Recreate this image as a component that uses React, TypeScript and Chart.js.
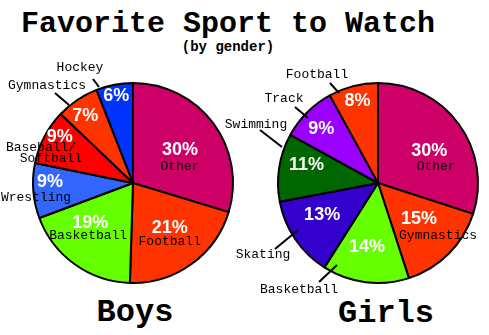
import React, { useEffect, useRef } from "react";
import { Chart, registerables } from "chart.js";
Chart.register(...registerables);

// ---- data ----
const titleText = "Favorite Sport to Watch";
const subtitleText = "(by gender)";
const boysTitle = "Boys";
const girlsTitle = "Girls";

const boysCategories = ["Other", "Football", "Basketball", "Wrestling", "Baseball/\nSoftball", "Gymnastics", "Hockey"];
const boysValues = [30, 21, 19, 9, 9, 7, 6];

const girlsCategories = ["Other", "Gymnastics", "Basketball", "Skating", "Swimming", "Track", "Football"];
const girlsValues = [30, 15, 14, 13, 11, 9, 8];

// ---- styles ----
const boysColors = ["#cc0066", "#ff3300", "#66ff00", "#3366ff", "#ff0000", "#ff3300", "#0033ff"];
const girlsColors = ["#cc0066", "#ff3300", "#66ff00", "#3300cc", "#006600", "#9900ff", "#ff3300"];

type LabelLayout = {
  r: number; // radius of percent label
  nudge: number; // degrees added to slice mid-angle
  name?: [number, number]; // name offset relative to percent label (inside)
  outside?: [number, number][]; // name line centers relative to pie centre
  leader?: [number, number, number, number];
};

const boysLayout: LabelLayout[] = [
  { r: 58, nudge: 0.5, name: [0, 18] },
  { r: 57, nudge: -4.5, name: [0, 15] },
  { r: 58, nudge: 12, name: [-2, 13] },
  { r: 83, nudge: 5.5, outside: [[-97, 15]] },
  { r: 87, nudge: 5, outside: [[-92, -35], [-82, -24]] },
  { r: 83, nudge: -1.3, outside: [[-86, -97]], leader: [-78, -90, -64, -78] },
  { r: 90, nudge: 0, outside: [[-53, -115]], leader: [-40, -104, -34, -96] },
];

const girlsLayout: LabelLayout[] = [
  { r: 61, nudge: 3, name: [7, 17] },
  { r: 54, nudge: -4.5, name: [19, 17] },
  { r: 64, nudge: 2.6, outside: [[-79, 107]], leader: [-59, 99, -41, 82] },
  { r: 64, nudge: 5, outside: [[-115, 72]], leader: [-103, 66, -80, 47] },
  { r: 74, nudge: 6, outside: [[-122, -58]], leader: [-118, -53, -96, -36] },
  { r: 79, nudge: -1, outside: [[-94, -84]], leader: [-83, -76, -70, -65] },
  { r: 85, nudge: 0.4, outside: [[-61, -108]], leader: [-48, -100, -39, -90] },
];

const W = 489;
const H = 335;

function makeLabelPlugin(categories: string[], values: number[], layout: LabelLayout[]) {
  return {
    id: "sliceLabels",
    afterDatasetsDraw(chart: any) {
      const ctx = chart.ctx as CanvasRenderingContext2D;
      const meta = chart.getDatasetMeta(0);
      ctx.save();
      meta.data.forEach((arc: any, i: number) => {
        const p = arc.getProps(["x", "y", "startAngle", "endAngle"], true);
        const L = layout[i];
        const mid = (p.startAngle + p.endAngle) / 2 + (L.nudge * Math.PI) / 180;
        const px = p.x + Math.cos(mid) * L.r;
        const py = p.y + Math.sin(mid) * L.r;
        // leader
        if (L.leader) {
          ctx.strokeStyle = "#000";
          ctx.lineWidth = 2;
          ctx.beginPath();
          ctx.moveTo(p.x + L.leader[0], p.y + L.leader[1]);
          ctx.lineTo(p.x + L.leader[2], p.y + L.leader[3]);
          ctx.stroke();
        }
        // percent
        ctx.fillStyle = "#ffffff";
        ctx.font = "bold 18px 'Liberation Sans', Arial, sans-serif";
        ctx.textAlign = "center";
        ctx.textBaseline = "middle";
        ctx.fillText(values[i] + "%", px, py + 1);
        // name
        ctx.fillStyle = "#000";
        ctx.font = "13px 'Liberation Mono', 'Courier New', monospace";
        const lines = categories[i].split("\n");
        if (L.name) {
          ctx.fillText(lines[0], px + L.name[0], py + L.name[1]);
        } else if (L.outside) {
          lines.forEach((ln, k) => {
            const o = L.outside![Math.min(k, L.outside!.length - 1)];
            ctx.fillText(ln, p.x + o[0], p.y + o[1]);
          });
        }
      });
      ctx.restore();
    },
  };
}

function PieCanvas(props: {
  categories: string[];
  values: number[];
  colors: string[];
  layout: LabelLayout[];
  padLeft: number;
  padRight: number;
  padTop: number;
  padBottom: number;
  radius: number;
}) {
  const ref = useRef<HTMLCanvasElement | null>(null);
  useEffect(() => {
    if (!ref.current) return;
    const chart = new Chart(ref.current, {
      type: "pie",
      data: {
        labels: props.categories,
        datasets: [
          {
            data: props.values,
            backgroundColor: props.colors,
            borderColor: "#000000",
            borderWidth: 2,
          },
        ],
      },
      options: {
        responsive: false,
        animation: false,
        radius: props.radius,
        layout: {
          padding: { left: props.padLeft, right: props.padRight, top: props.padTop, bottom: props.padBottom },
        },
        plugins: { legend: { display: false }, tooltip: { enabled: false }, title: { display: false } },
      } as any,
      plugins: [makeLabelPlugin(props.categories, props.values, props.layout)],
    });
    return () => chart.destroy();
  }, []);
  return (
    <canvas
      ref={ref}
      width={W}
      height={H}
      style={{ position: "absolute", left: 0, top: 0, width: W, height: H }}
    />
  );
}

const headStyle: React.CSSProperties = {
  position: "absolute",
  fontFamily: "'Liberation Mono', 'Courier New', monospace",
  fontWeight: "bold",
  textAlign: "center",
  whiteSpace: "nowrap",
  color: "#000",
};

export default function App() {
  useEffect(() => {
    document.body.style.margin = "0";
    document.body.style.background = "#fff";
  }, []);
  return (
    <div style={{ position: "relative", width: W, height: H, background: "#fff", overflow: "hidden" }}>
      <div style={{ ...headStyle, left: 0, width: 456, top: 9, fontSize: 30, lineHeight: "30px" }}>{titleText}</div>
      <div style={{ ...headStyle, left: 0, width: 456, top: 40, fontSize: 14, lineHeight: "14px" }}>{subtitleText}</div>
      <div style={{ ...headStyle, left: 0, width: 270, top: 297, fontSize: 32, lineHeight: "32px" }}>{boysTitle}</div>
      <div style={{ ...headStyle, left: 0, width: 772, top: 298, fontSize: 32, lineHeight: "32px" }}>{girlsTitle}</div>
      <PieCanvas
        categories={boysCategories}
        values={boysValues}
        colors={boysColors}
        layout={boysLayout}
        padLeft={0}
        padRight={223}
        padTop={31}
        padBottom={0}
        radius={100}
      />
      <PieCanvas
        categories={girlsCategories}
        values={girlsValues}
        colors={girlsColors}
        layout={girlsLayout}
        padLeft={267}
        padRight={0}
        padTop={31}
        padBottom={0}
        radius={100}
      />
    </div>
  );
}
